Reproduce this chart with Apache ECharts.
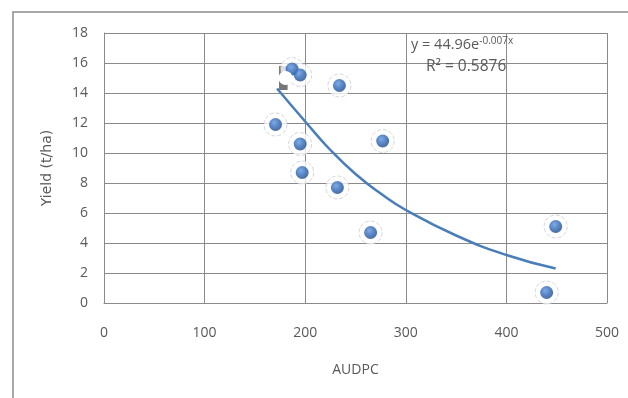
<!DOCTYPE html>
<html>
<head>
<meta charset="utf-8">
<script src="https://cdn.jsdelivr.net/npm/echarts@6/dist/echarts.min.js"></script>
<style>html,body{margin:0;padding:0;background:#fff;}#c{width:628px;height:398px;}</style>
</head>
<body>
<div id="c"></div>
<script>
// Observed points (AUDPC, Yield t/ha)
const audpc = [187, 195, 234, 170.5, 195, 277, 197, 232, 265, 449, 440];
const yieldVals = [15.6, 15.2, 14.5, 11.9, 10.6, 10.8, 8.7, 7.7, 4.7, 5.1, 0.7];
// Trend line
const trendX = [172, 200, 225, 250, 275, 300, 350, 400, 449];
const trendY = [14.3, 12.1, 10.2, 8.6, 7.3, 6.2, 4.5, 3.2, 2.3];
const xTicks = [0, 100, 200, 300, 400, 500];
const yTicks = [0, 2, 4, 6, 8, 10, 12, 14, 16, 18];
const equationText = 'y = 44.96e';
const equationExp = '-0.007x';
const r2Text = 'R² = 0.5876';

const pts = audpc.map((x, i) => [x, yieldVals[i]]);
const trend = trendX.map((x, i) => [x, trendY[i]]);

const chart = echarts.init(document.getElementById('c'));
const gridColor = '#8a8a8a';
const labelColor = '#595959';
chart.setOption({
  animation: false,
  backgroundColor: '#fff',
  grid: { left: 104, top: 33, width: 503, height: 270 },
  xAxis: {
    type: 'value', min: xTicks[0], max: xTicks[xTicks.length - 1], interval: 100,
    name: 'AUDPC', nameLocation: 'middle', nameGap: 60,
    nameTextStyle: { color: labelColor, fontSize: 14, fontFamily: 'Open Sans' },
    axisLine: { show: true, lineStyle: { color: gridColor, width: 1 } },
    axisTick: { show: false },
    axisLabel: { color: labelColor, fontSize: 14, margin: 23, fontFamily: 'Open Sans' },
    splitLine: { show: true, lineStyle: { color: gridColor, width: 1 } }
  },
  yAxis: {
    type: 'value', min: yTicks[0], max: yTicks[yTicks.length - 1], interval: 2,
    name: 'Yield (t/ha)', nameLocation: 'middle', nameGap: 50,
    nameTextStyle: { color: labelColor, fontSize: 14, fontFamily: 'DejaVu Sans' },
    axisLine: { show: true, lineStyle: { color: gridColor, width: 1 } },
    axisTick: { show: false },
    axisLabel: { color: labelColor, fontSize: 14, margin: 16, fontFamily: 'Open Sans' },
    splitLine: { show: true, lineStyle: { color: gridColor, width: 1 } }
  },
  graphic: [
    { type: 'polyline', silent: true, shape: { points: [[13, 400], [13, 12], [630, 12]] },
      style: { stroke: '#8c8c8c', lineWidth: 1.5, fill: null } },
    { type: 'text', left: 411, top: 36, z: 10,
      style: { text: '{a|' + equationText + '}{s|' + equationExp + '}',
        rich: { a: { fontSize: 14.5, fontFamily: 'Open Sans', fill: labelColor },
                s: { fontSize: 10, fontFamily: 'Open Sans', fill: labelColor, verticalAlign: 'top', padding: [0, 0, 8, 0] } } } },
    { type: 'text', left: 426, top: 59, z: 10,
      style: { text: r2Text, fontSize: 15.5, fontFamily: 'Open Sans', fill: labelColor } }
  ],
  series: [
    {
      type: 'scatter', data: pts, symbolSize: 23, z: 2,
      itemStyle: { color: 'rgba(255,255,255,0.95)', borderColor: 'rgba(190,190,205,0.8)', borderWidth: 1, borderType: 'dashed' },
      markArea: { silent: true, itemStyle: { color: '#767676' }, data: [[{ coord: [174, 15.8] }, { coord: [182.5, 14.2] }]] },
      markPoint: { silent: true, symbol: 'circle', symbolSize: 14, itemStyle: { color: '#fff' }, label: { show: false },
        data: [{ coord: [180.5, 15.0] }] }
    },
    {
      type: 'scatter', data: pts, symbolSize: 13, z: 4,
      itemStyle: {
        color: { type: 'radial', x: 0.4, y: 0.35, r: 0.7,
          colorStops: [{ offset: 0, color: '#5f97dc' }, { offset: 0.5, color: '#2f68b8' }, { offset: 1, color: '#1b4686' }] }
      }
    },
    {
      type: 'line', data: trend, smooth: true, symbol: 'none', z: 5,
      lineStyle: { color: '#4a7ebb', width: 2.5 }
    }
  ]
});
</script>
</body>
</html>
